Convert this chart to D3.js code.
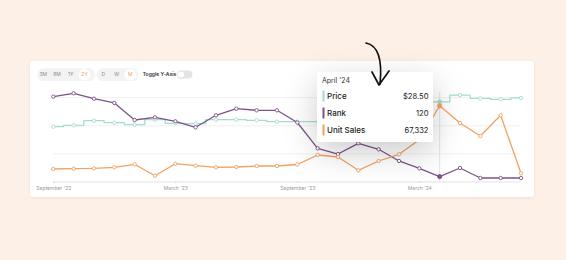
<!DOCTYPE html>
<html><head><meta charset="utf-8">
<script src="https://cdn.jsdelivr.net/npm/d3@7"></script>
<style>
html,body{margin:0;padding:0;background:#fdf0e6;}
svg{display:block;font-family:Inter,"Noto Sans",sans-serif;}
</style></head><body>
<svg id="c" width="566" height="260"></svg>
<script>
const months = ["2022-09","2022-10","2022-11","2022-12","2023-01","2023-02","2023-03","2023-04","2023-05","2023-06","2023-07","2023-08","2023-09","2023-10","2023-11","2023-12","2024-01","2024-02","2024-03","2024-04","2024-05","2024-06","2024-07","2024-08"];
const priceValues = [19.66,20.16,21.8,21.08,20.37,22.15,20.87,20.73,22.15,22.15,21.94,21.44,21.44,21.44,22.15,22.15,23.5,25.0,26.5,28.5,30.9,29.7,29.4,29.9];
const rankValues = [1896,1971,1851,1756,1378,1438,1349,1216,1482,1629,1593,1593,1322,749,622,860,727,467,304,120,311,89,89,89];
const unitSalesValues = [11480,11748,12102,12985,15635,5565,16165,14398,12985,13250,14133,14133,15458,23850,22083,10335,18550,24468,37365,67332,52117,40633,58918,7685];
const tickMonths = ["2022-09","2023-03","2023-09","2024-03"];
const tickLabels = ["September '22","March '23","September '23","March '24"];
const rangeButtons = ["3M","6M","1Y","2Y"];
const intervalButtons = ["D","W","M"];
const hoverIndex = 19;
const hoverLabel = "April '24";

const svg = d3.select("#c");
const defs = svg.append("defs");
const f1 = defs.append("filter").attr("id","cardShadow").attr("x","-10%").attr("y","-20%").attr("width","120%").attr("height","140%");
f1.append("feDropShadow").attr("dx",0).attr("dy",1).attr("stdDeviation",1.5).attr("flood-color","#000").attr("flood-opacity",0.06);
const f2 = defs.append("filter").attr("id","tipShadow").attr("x","-60%").attr("y","-60%").attr("width","220%").attr("height","220%");
f2.append("feDropShadow").attr("dx",0).attr("dy",10).attr("stdDeviation",16).attr("flood-color","#000").attr("flood-opacity",0.2);
const f3 = defs.append("filter").attr("id","knobShadow");
f3.append("feDropShadow").attr("dx",0).attr("dy",0.3).attr("stdDeviation",0.5).attr("flood-color","#000").attr("flood-opacity",0.25);

// card
svg.append("rect").attr("x",30).attr("y",61).attr("width",504).attr("height",136).attr("rx",3).attr("fill","#fff").attr("filter","url(#cardShadow)");

// controls
const g1 = svg.append("g");
g1.append("rect").attr("x",37.3).attr("y",68.3).attr("width",57.7).attr("height",12.7).attr("rx",6.35).attr("fill","#f3f3f3");
const g1x = [43.3,57,70.7,84.6];
g1.append("circle").attr("cx",g1x[3]).attr("cy",74.7).attr("r",5.8).attr("fill","#fff");
g1.selectAll("text").data(rangeButtons).join("text")
  .attr("x",(d,i)=>g1x[i]).attr("y",76.4).attr("text-anchor","middle")
  .attr("font-size",5).attr("fill",(d,i)=>i===3?"#f0a15e":"#8a8a8a").text(d=>d);
const g2 = svg.append("g");
g2.append("rect").attr("x",96.7).attr("y",68.3).attr("width",41.6).attr("height",12.7).attr("rx",6.35).attr("fill","#f3f3f3");
const g2x = [103.3,116.7,130.2];
g2.append("circle").attr("cx",g2x[2]).attr("cy",74.7).attr("r",5.8).attr("fill","#fff");
g2.selectAll("text").data(intervalButtons).join("text")
  .attr("x",(d,i)=>g2x[i]).attr("y",76.4).attr("text-anchor","middle")
  .attr("font-size",5).attr("fill",(d,i)=>i===2?"#f0a15e":"#8a8a8a").text(d=>d);
svg.append("text").attr("x",142.7).attr("y",76.4).attr("font-size",5).attr("font-weight",600).attr("fill","#333").text("Toggle Y-Axis");
svg.append("rect").attr("x",177).attr("y",70.6).attr("width",15.4).attr("height",8).attr("rx",4).attr("fill","#e4e4e4");
svg.append("circle").attr("cx",181).attr("cy",74.6).attr("r",3.2).attr("fill","#fff").attr("filter","url(#knobShadow)");

// scales
const x = d3.scalePoint().domain(months).range([53.3,521]);
const yTop = 92, yBot = 182;
const yPrice = d3.scaleLinear().domain([0,32]).range([yBot,yTop]);
const yRank = d3.scaleLinear().domain([0,2000]).range([yBot,yTop]);
const ySales = d3.scaleLinear().domain([0,79500]).range([yBot,yTop]);

// grid
svg.append("g").selectAll("line").data(yPrice.ticks(4).filter(t=>t>0)).join("line")
  .attr("x1",53.3).attr("x2",521).attr("y1",d=>yPrice(d)).attr("y2",d=>yPrice(d))
  .attr("stroke","#ececec").attr("stroke-width",0.8);

// axis
const axis = d3.axisBottom(x).tickValues(tickMonths).tickFormat((d,i)=>tickLabels[i]).tickSize(2).tickPadding(2.5);
const ag = svg.append("g").attr("transform",`translate(0,${yBot})`).call(axis);
ag.select(".domain").attr("stroke","#dcdcdc").attr("stroke-width",0.8).attr("d",`M53.3,0H521`);
ag.selectAll(".tick line").attr("stroke","#cfcfcf").attr("stroke-width",0.6).attr("y1",-1).attr("y2",1);
ag.selectAll(".tick text").attr("font-size",5).attr("fill","#9a9a9a").attr("font-family","Inter,'Noto Sans',sans-serif");

// hover line
svg.append("line").attr("x1",x(months[hoverIndex])).attr("x2",x(months[hoverIndex])).attr("y1",yTop).attr("y2",yBot).attr("stroke","#dedede").attr("stroke-width",0.8);

const series = [
  {name:"Price", values:priceValues, y:yPrice, color:"#a6dccf", curve:d3.curveStep, fmt:d=>"$"+d3.format(".2f")(d)},
  {name:"Rank", values:rankValues, y:yRank, color:"#7c5389", curve:d3.curveLinear, fmt:d3.format(",")},
  {name:"Unit Sales", values:unitSalesValues, y:ySales, color:"#f1a262", curve:d3.curveLinear, fmt:d3.format(",")}
];
series.forEach(s=>{
  const line = d3.line().x((d,i)=>x(months[i])).y(d=>s.y(d)).curve(s.curve);
  svg.append("path").datum(s.values).attr("d",line).attr("fill","none").attr("stroke",s.color).attr("stroke-width",1.3).attr("stroke-linejoin","round");
  svg.append("g").selectAll("circle").data(s.values).join("circle")
    .attr("cx",(d,i)=>x(months[i])).attr("cy",d=>s.y(d))
    .attr("r",(d,i)=>i===hoverIndex?2.1:1.7).attr("fill",(d,i)=>i===hoverIndex?s.color:"#fff")
    .attr("stroke",s.color).attr("stroke-width",0.9);
});

// tooltip
const tip = svg.append("g").attr("transform","translate(317,72)");
tip.append("rect").attr("width",116).attr("height",70).attr("rx",3).attr("fill","#fff").attr("filter","url(#tipShadow)");
tip.append("text").attr("x",5).attr("y",11).attr("font-size",7).attr("fill","#333").text(hoverLabel);
const rows = tip.selectAll("g.row").data(series).join("g").attr("class","row").attr("transform",(d,i)=>`translate(0,${24+i*17})`);
rows.append("rect").attr("x",5.5).attr("y",-5.5).attr("width",2).attr("height",11).attr("fill",d=>d.color);
rows.append("text").attr("x",10).attr("y",2.8).attr("font-size",8).attr("font-weight",500).attr("fill","#222").text(d=>d.name);
rows.append("text").attr("x",111.5).attr("y",2.8).attr("text-anchor","end").attr("font-size",7.6).attr("fill","#222").text(d=>d.fmt(d.values[hoverIndex]));

// hand-drawn arrow
svg.append("path").attr("d","M366,43 C376,45 383,55 380,84").attr("fill","none").attr("stroke","#111").attr("stroke-width",1.7).attr("stroke-linecap","round");
svg.append("path").attr("d","M372,72 L379,85 L389,71").attr("fill","none").attr("stroke","#111").attr("stroke-width",1.7).attr("stroke-linecap","round").attr("stroke-linejoin","round");
</script></body></html>
